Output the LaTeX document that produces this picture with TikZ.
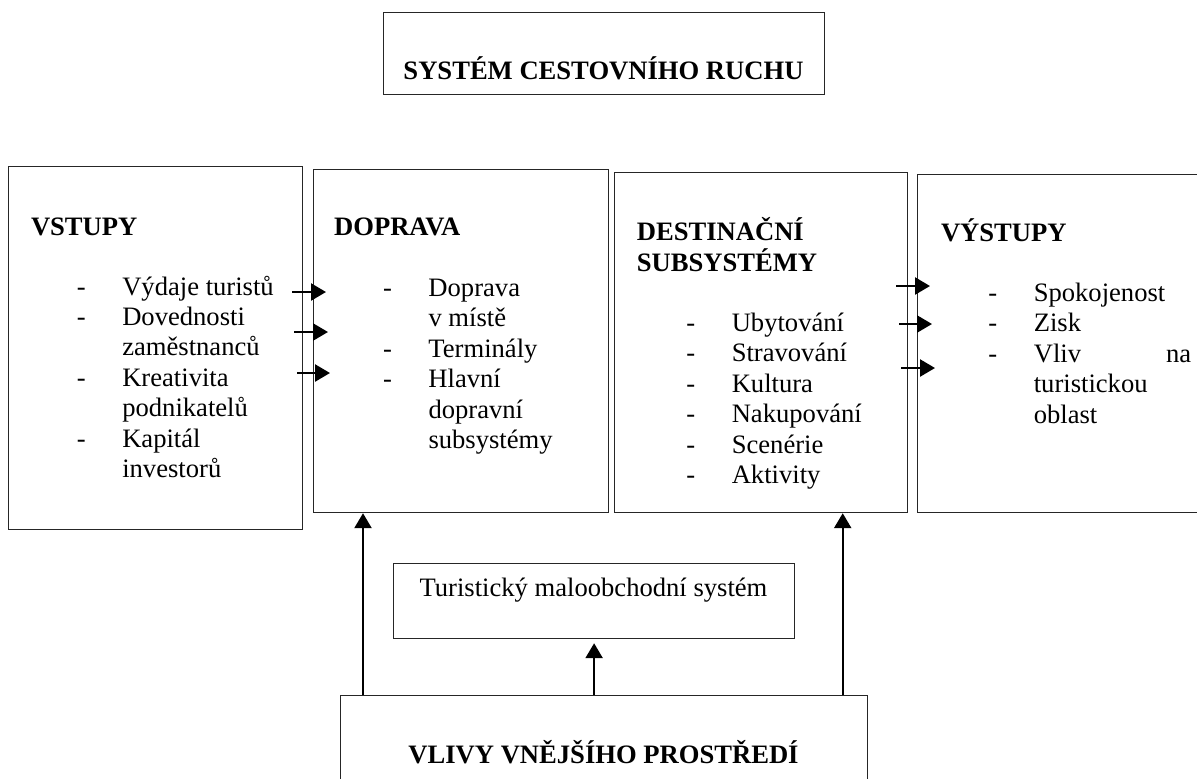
\documentclass[tikz,border=0pt]{standalone}
\usepackage{fontspec}
\setmainfont{Liberation Serif}
\usetikzlibrary{arrows.meta}

\newcommand\dashlist[1]{\begin{tabular}[t]{@{}p{22.7pt}@{}l@{}}#1\end{tabular}}

\begin{document}
\begin{tikzpicture}[x=0.5pt,y=-0.5pt,
  font=\fontsize{13.3}{15.2}\selectfont,
  box/.style={draw=black!85,line width=0.6pt,anchor=north west,inner sep=0pt},
  txt/.style={inner sep=0pt,anchor=base west},
  head/.style={txt,font=\fontsize{13.3}{15.2}\selectfont\bfseries},
  arr/.style={line width=1.2pt,-{Triangle[width=8.5pt,length=7.5pt]}}]

\useasboundingbox (0,0) rectangle (1197,778);

% boxes
\node[box,minimum width=220.5pt,minimum height=41pt] (title) at (383,12) {};
\node[box,minimum width=147pt,minimum height=181.5pt] (vstupy) at (8,166) {};
\node[box,minimum width=147.5pt,minimum height=171.5pt] (doprava) at (313,169) {};
\node[box,minimum width=146.5pt,minimum height=170pt] (dest) at (614,172) {};
\node[box,minimum width=150pt,minimum height=169pt] (vystupy) at (917,174) {};
\node[box,minimum width=200.5pt,minimum height=37.5pt] (maloobch) at (393,563) {};
\node[box,minimum width=263.5pt,minimum height=55pt] (vlivy) at (340,695) {};

% texts
\node[head,anchor=base] (titletxt) at (603.5,79) {SYSTÉM CESTOVNÍHO RUCHU};

\node[head] (vstupyhead) at (30.6,235) {VSTUPY};
\node[txt] (vstupylist) at (76.5,295) {\dashlist{-&Výdaje turistů\\-&Dovednosti\\&zaměstnanců\\
  -&Kreativita\\&podnikatelů\\-&Kapitál\\&investorů}};

\node[head] (dopravahead) at (333.7,235) {DOPRAVA};
\node[txt] (dopravalist) at (382.7,296.5) {\dashlist{-&Doprava\\&v místě\\-&Terminály\\
  -&Hlavní\\&dopravní\\&subsystémy}};

\node[head] (desthead) at (636.4,240) {\begin{tabular}[t]{@{}l@{}}DESTINAČNÍ\\SUBSYSTÉMY\end{tabular}};
\node[txt] (destlist) at (686,331.5) {\dashlist{-&Ubytování\\-&Stravování\\-&Kultura\\
  -&Nakupování\\-&Scenérie\\-&Aktivity}};

\node[head] (vystupyhead) at (940.6,241.7) {VÝSTUPY};
\node[txt] (vystupylist) at (988,301.5) {\begin{tabular}[t]{@{}p{22.7pt}@{}p{78.7pt}@{}}
  -&Spokojenost\\-&Zisk\\-&Vliv\hfill na\\&turistickou\\&oblast\end{tabular}};

\node[txt,anchor=base] (maloobchtxt) at (593.5,596) {Turistický maloobchodní systém};
\node[head,anchor=base] (vlivytxt) at (603.5,763) {VLIVY VNĚJŠÍHO PROSTŘEDÍ};

% arrows
\foreach \y/\s/\e in {292/-11/13,332/-9/15,373/-6/17}
  \draw[arr] ([xshift=\s*0.5pt]vstupy.east |- 0,\y) -- ([xshift=\e*0.5pt]doprava.west |- 0,\y);
\foreach \y/\s/\e in {286/-12/13,324/-9/15,368/-7/18}
  \draw[arr] ([xshift=\s*0.5pt]dest.east |- 0,\y) -- ([xshift=\e*0.5pt]vystupy.west |- 0,\y);

\path ([xshift=25pt]doprava.south west) coordinate (upleft)
      ([xshift=-32.75pt]dest.south east) coordinate (upright);
\draw[arr] (vlivy.north -| upleft) -- (upleft);
\draw[arr] (vlivy.north -| maloobch.south) -- ([yshift=-2pt]maloobch.south);
\draw[arr] (vlivy.north -| upright) -- (upright);

\end{tikzpicture}
\end{document}
